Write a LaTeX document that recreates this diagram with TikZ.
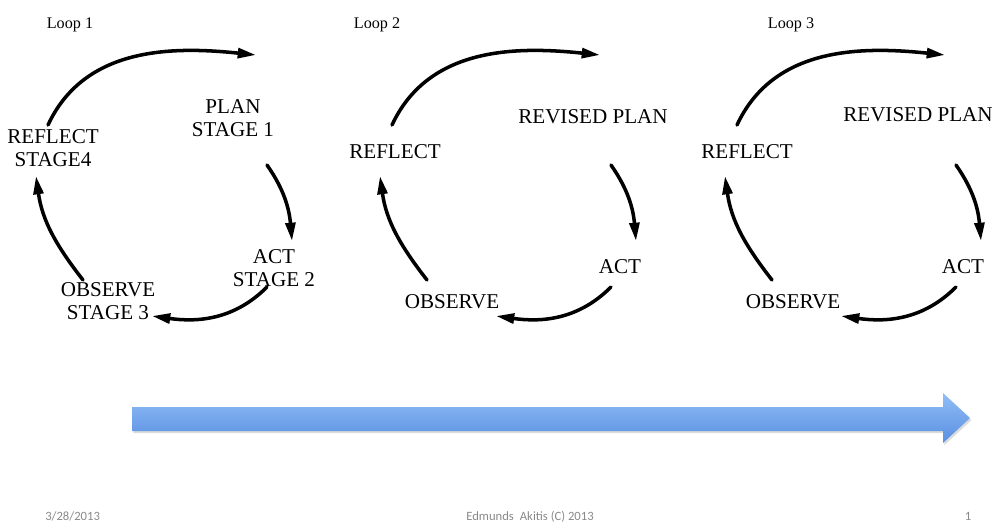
\documentclass[tikz,border=0pt]{standalone}
\usepackage{fontspec}
\setmainfont{Liberation Serif}
\newfontfamily\footfont{Carlito}
\usetikzlibrary{arrows.meta}
\definecolor{footgray}{RGB}{137,137,137}
\definecolor{bandtop}{RGB}{146,190,248}
\definecolor{bandbot}{RGB}{88,143,224}
\begin{document}
\begin{tikzpicture}[x=0.025cm,y=0.025cm,>={Triangle[length=13pt,width=7pt]},line join=round,line cap=round,
	cyc/.style={line width=2.5pt,->},
	lbl/.style={font=\fontsize{15}{16.5}\selectfont,align=center,inner sep=0pt},
	ttl/.style={font=\fontsize{11.5}{13}\selectfont,inner sep=0pt},
	foot/.style={font=\footfont\fontsize{9}{11}\selectfont,text=footgray,inner sep=0pt,anchor=base}]
	\useasboundingbox (0,0) rectangle (995,-522);
	\foreach \n/\dx in {1/0,2/344,3/689}{
		\path
		(\dx+48,-125) coordinate (ts\n)
		(\dx+256,-55) coordinate (te\n)
		(\dx+267,-165) coordinate (rs\n)
		(\dx+292,-241) coordinate (re\n)
		(\dx+267,-287) coordinate (bs\n)
		(\dx+152,-316) coordinate (be\n)
		(\dx+83,-280) coordinate (ls\n)
		(\dx+36,-176) coordinate (le\n)
		;
		\draw[cyc] (ts\n) to[out=65,in=174] (te\n);
		\draw[cyc] (rs\n) to[out=-55,in=95] (re\n);
		\draw[cyc] (bs\n) to[out=-135,in=-8] (be\n);
		\draw[cyc] (ls\n) to[out=128,in=-82] (le\n);
	}
	\node[ttl] (loopA) at (70,-25) {Loop 1};
	\node[lbl] (planA) at (233,-118) {PLAN\\STAGE 1};
	\node[lbl] (actA) at (274,-268) {ACT\\STAGE 2};
	\node[lbl] (obsA) at (108,-301) {OBSERVE\\STAGE 3};
	\node[lbl] (refA) at (53,-148) {REFLECT\\STAGE4};
	\node[ttl] (loopB) at (377,-25) {Loop 2};
	\node[lbl] (planB) at (593,-117) {REVISED PLAN};
	\node[lbl] (actB) at (620,-267) {ACT};
	\node[lbl] (obsB) at (452,-302) {OBSERVE};
	\node[lbl] (refB) at (395,-152) {REFLECT};
	\node[ttl] (loopC) at (791,-25) {Loop 3};
	\node[lbl] (planC) at (918,-115) {REVISED PLAN};
	\node[lbl] (actC) at (963,-267) {ACT};
	\node[lbl] (obsC) at (793,-302) {OBSERVE};
	\node[lbl] (refC) at (747,-152) {REFLECT};
	\path
	(132,-407) coordinate (S1)
	(943,-407) coordinate (S2)
	(943,-393) coordinate (H1)
	(970,-418) coordinate (Tip)
	(943,-443) coordinate (H2)
	(943,-431) coordinate (S3)
	(132,-431) coordinate (S4)
	;
	\fill[black!14,transform canvas={xshift=1pt,yshift=-1.5pt}]
	(S1)--(S2)--(H1)--(Tip)--(H2)--(S3)--(S4)--cycle
	;
	\shade[top color=bandtop,bottom color=bandbot]
	(S1)--(S2)--(H1)--(Tip)--(H2)--(S3)--(S4)--cycle
	;
	\node[foot,anchor=base west] (date) at (45,-520) {3/28/2013};
	\node[foot] (owner) at (530,-520) {Edmunds\hspace{0.25em} Akitis (C) 2013};
	\node[foot] (page) at (968,-520) {1};
\end{tikzpicture}
\end{document}
